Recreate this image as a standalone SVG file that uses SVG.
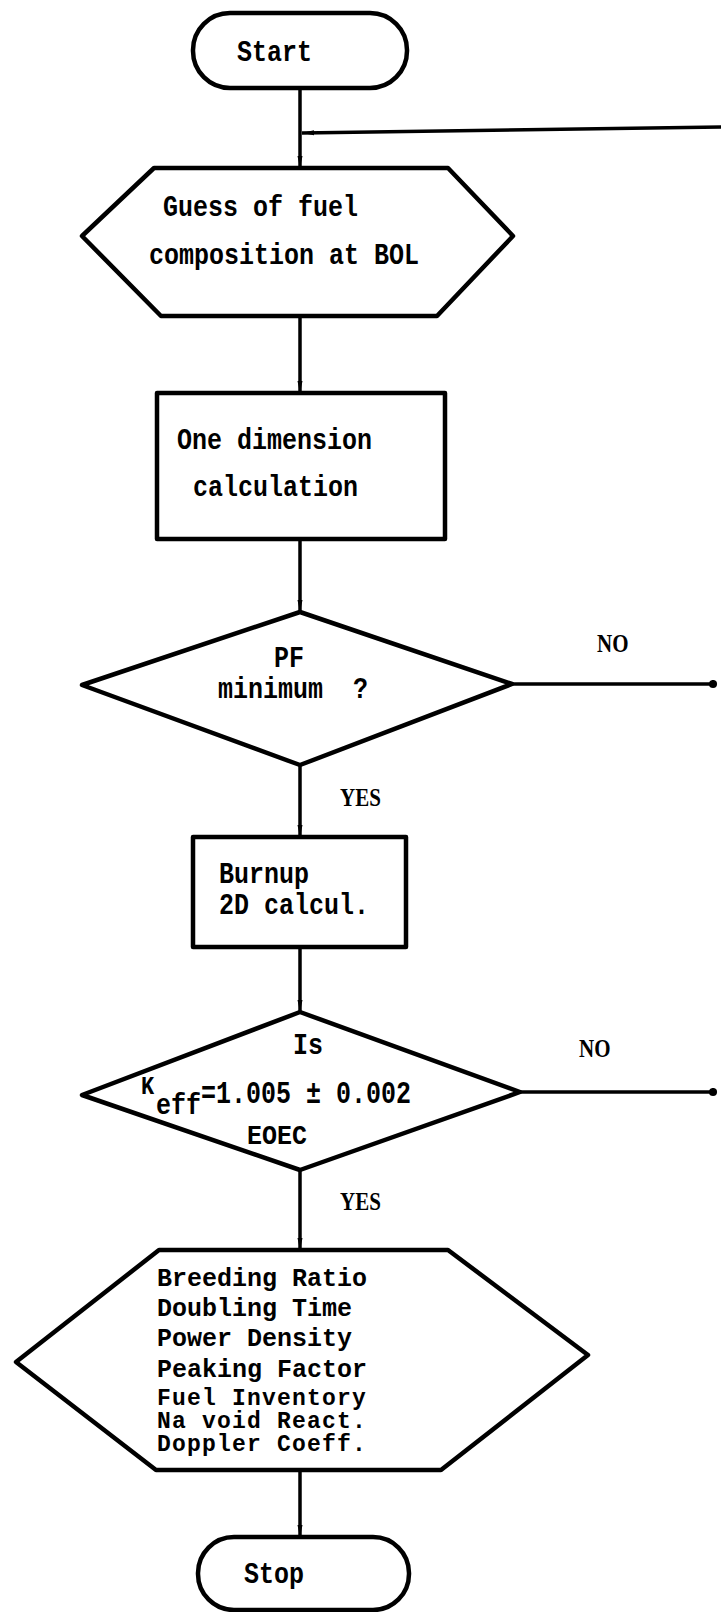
<svg xmlns="http://www.w3.org/2000/svg" width="721" height="1612" viewBox="0 0 721 1612">
  <defs>
    <marker id="arrow" viewBox="0 0 12 8" refX="12" refY="4" markerWidth="12" markerHeight="8" markerUnits="userSpaceOnUse" orient="auto">
      <path d="M0,1.5 L12,4 L0,6.5 z" fill="#000"/>
    </marker>
    <marker id="dot" viewBox="0 0 10 10" refX="5" refY="5" markerWidth="9" markerHeight="9" markerUnits="userSpaceOnUse">
      <circle cx="5" cy="5" r="4.5" fill="#000"/>
    </marker>
  </defs>
  <style>
    .shape { fill: #fff; stroke: #000; stroke-width: 4.5; stroke-linejoin: round; }
    .conn { fill: none; stroke: #000; stroke-width: 3.5; }
    text { font-family: "Liberation Mono", "DejaVu Sans Mono", monospace; font-weight: bold; font-size: 25px; fill: #000; }
    .lbl { font-family: "Liberation Serif", serif; font-size: 21px; }
    .sub { font-size: 22px; }
    .tight { font-size: 23px; letter-spacing: 1.2px; }
  </style>
  <rect width="721" height="1612" fill="#fff"/>

  <g id="connectors">
    <line class="conn" x1="300" y1="88" x2="300" y2="168" marker-end="url(#arrow)"/>
    <line class="conn" x1="721" y1="127" x2="302" y2="133" marker-end="url(#arrow)"/>
    <line class="conn" x1="300" y1="317" x2="300" y2="393" marker-end="url(#arrow)"/>
    <line class="conn" x1="300" y1="539" x2="300" y2="612" marker-end="url(#arrow)"/>
    <line class="conn" x1="512" y1="684" x2="713" y2="684" marker-end="url(#dot)"/>
    <line class="conn" x1="300" y1="765" x2="300" y2="837" marker-end="url(#arrow)"/>
    <line class="conn" x1="300" y1="947" x2="300" y2="1012" marker-end="url(#arrow)"/>
    <line class="conn" x1="520" y1="1092" x2="713" y2="1092" marker-end="url(#dot)"/>
    <line class="conn" x1="300" y1="1170" x2="300" y2="1250" marker-end="url(#arrow)"/>
    <line class="conn" x1="300" y1="1470" x2="300" y2="1537" marker-end="url(#arrow)"/>
    <text class="lbl" transform="translate(597,652) scale(1,1.15)">NO</text>
    <text class="lbl" transform="translate(340,806) scale(1,1.15)">YES</text>
    <text class="lbl" transform="translate(579,1057) scale(1,1.15)">NO</text>
    <text class="lbl" transform="translate(340,1210) scale(1,1.15)">YES</text>
  </g>

  <g id="start">
    <rect class="shape" x="193" y="13" width="214" height="75" rx="37" ry="37"/>
    <text transform="translate(237,61) scale(1,1.2)">Start</text>
  </g>

  <g id="guess">
    <polygon class="shape" points="154,168 448,168 513,236 437,316 161,316 82,236"/>
    <text transform="translate(163,216) scale(1,1.2)">Guess of fuel</text>
    <text transform="translate(149,264) scale(1,1.2)">composition at BOL</text>
  </g>

  <g id="onedim">
    <rect class="shape" x="157" y="393" width="288" height="146"/>
    <text transform="translate(177,449) scale(1,1.2)">One dimension</text>
    <text transform="translate(193,496) scale(1,1.2)">calculation</text>
  </g>

  <g id="pfmin">
    <polygon class="shape" points="300,612 512,684 300,765 82,685"/>
    <text transform="translate(274,667) scale(1,1.2)">PF</text>
    <text transform="translate(218,698) scale(1,1.2)" xml:space="preserve">minimum  ?</text>
  </g>

  <g id="burnup">
    <rect class="shape" x="193" y="837" width="213" height="110"/>
    <text transform="translate(219,883) scale(1,1.2)">Burnup</text>
    <text transform="translate(219,914) scale(1,1.2)">2D calcul.</text>
  </g>

  <g id="keff">
    <polygon class="shape" points="300,1012 520,1092 300,1170 82,1095"/>
    <text transform="translate(293,1054) scale(1,1.2)">Is</text>
    <text class="sub" transform="translate(141,1094) scale(1,1.2)">K</text>
    <text transform="translate(156,1114) scale(1,1.2)">eff</text>
    <text transform="translate(201,1103) scale(1,1.25)">=1.005 ± 0.002</text>
    <text transform="translate(247,1144) scale(1,1.1)">EOEC</text>
  </g>

  <g id="results">
    <polygon class="shape" points="159,1250 448,1250 588,1355 441,1470 156,1470 16,1362"/>
    <text x="157" y="1286">Breeding Ratio</text>
    <text x="157" y="1316">Doubling Time</text>
    <text x="157" y="1346">Power Density</text>
    <text x="157" y="1377">Peaking Factor</text>
    <text class="tight" x="157" y="1405">Fuel Inventory</text>
    <text class="tight" x="157" y="1428">Na void React.</text>
    <text class="tight" x="157" y="1451">Doppler Coeff.</text>
  </g>

  <g id="stop">
    <rect class="shape" x="198" y="1537" width="211" height="73" rx="36" ry="36"/>
    <text transform="translate(244,1583) scale(1,1.2)">Stop</text>
  </g>
</svg>
